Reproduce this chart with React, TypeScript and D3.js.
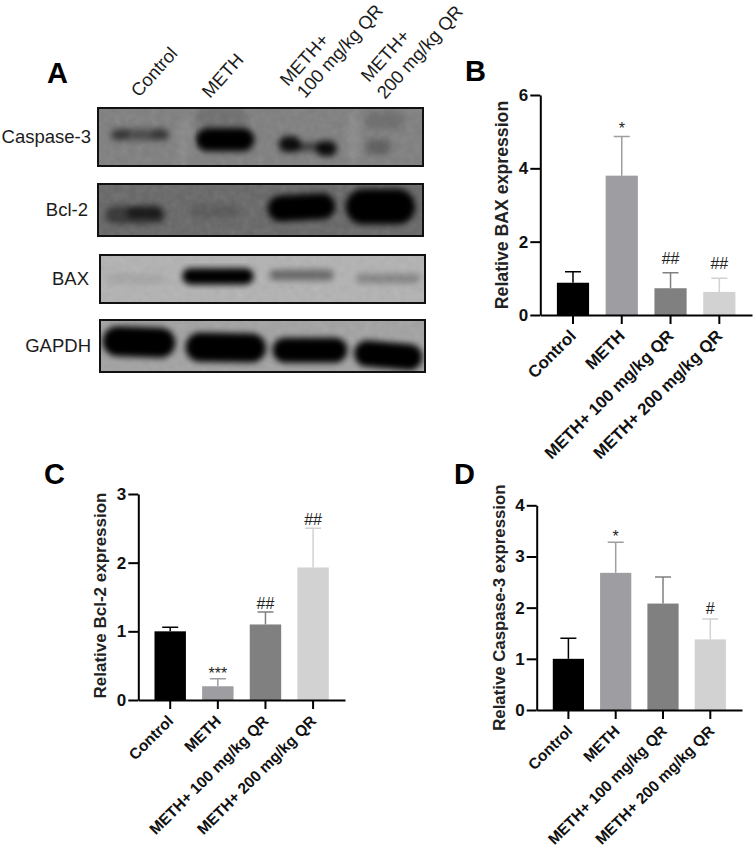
import React, { useEffect, useRef } from 'react';
import * as d3 from 'd3';

const groups = ['Control', 'METH', 'METH+ 100 mg/kg QR', 'METH+ 200 mg/kg QR'];
const barColors = ['#000000', '#9d9da2', '#808080', '#d2d2d2'];

const baxMeans = [0.88, 3.8, 0.73, 0.63];
const baxTops = [1.18, 4.87, 1.15, 1.0];
const baxMarks = ['', '*', '##', '##'];
const baxTicks = [0, 2, 4, 6];

const bclMeans = [1.0, 0.2, 1.1, 1.93];
const bclTops = [1.06, 0.31, 1.28, 2.5];
const bclMarks = ['', '***', '##', '##'];
const bclTicks = [0, 1, 2, 3];

const caspMeans = [1.0, 2.68, 2.08, 1.38];
const caspTops = [1.4, 3.28, 2.6, 1.78];
const caspMarks = ['', '*', '', '#'];
const caspTicks = [0, 1, 2, 3, 4];

// blot bands as fractions of the blot: [center x, center y, half width, half height, darkness, tilt]
// negative darkness = a lighter streak in the membrane
const caspaseBands = [
  [0.129, 0.46, 0.09, 0.1, 0.42, 0],
  [0.07, 0.45, 0.025, 0.09, 0.3, 0],
  [0.19, 0.45, 0.025, 0.09, 0.3, 0],
  [0.391, 0.545, 0.09, 0.2, 1, 0],
  [0.59, 0.625, 0.034, 0.14, 0.9, 0],
  [0.65, 0.67, 0.05, 0.08, 0.5, 0],
  [0.703, 0.7, 0.032, 0.13, 0.9, 0],
  [0.862, 0.67, 0.04, 0.13, 0.25, 0],
  [0.88, 0.22, 0.06, 0.15, 0.14, 0],
  [0.38, 0.15, 0.08, 0.17, 0.12, 0],
  [0.265, 0.6, 0.02, 0.5, -0.07, 0],
  [0.785, 0.5, 0.015, 0.5, -0.1, 0],
];
const bcl2Bands = [
  [0.114, 0.6, 0.092, 0.17, 0.45, 0],
  [0.144, 0.55, 0.056, 0.12, 0.55, 0],
  [0.36, 0.53, 0.08, 0.12, 0.14, 0],
  [0.626, 0.45, 0.104, 0.25, 1, -3],
  [0.869, 0.436, 0.107, 0.34, 1, 0],
];
const baxBands = [
  [0.11, 0.5, 0.09, 0.1, 0.08, 0],
  [0.363, 0.444, 0.11, 0.17, 1, 0],
  [0.62, 0.417, 0.099, 0.11, 0.42, 0],
  [0.887, 0.49, 0.099, 0.1, 0.26, 0],
];
const gapdhBands = [
  [0.12, 0.424, 0.112, 0.29, 1, 2],
  [0.387, 0.53, 0.124, 0.28, 1, 1],
  [0.646, 0.58, 0.115, 0.24, 1, 0],
  [0.887, 0.68, 0.105, 0.25, 1, 5],
];

function drawBlot(svg, name, bands, box, background, labelX) {
  const [x0, y0, x1, y1] = box;
  const sx = d3.scaleLinear().domain([0, 1]).range([x0, x1]);
  const sy = d3.scaleLinear().domain([0, 1]).range([y0, y1]);
  const id = 'clip-' + name;

  svg.select('defs').append('clipPath').attr('id', id)
    .append('rect').attr('x', x0).attr('y', y0).attr('width', x1 - x0).attr('height', y1 - y0);

  const g = svg.append('g').attr('clip-path', `url(#${id})`);
  g.append('rect').attr('x', x0).attr('y', y0).attr('width', x1 - x0).attr('height', y1 - y0)
    .attr('fill', background);
  g.append('rect').attr('x', x0).attr('y', y0).attr('width', x1 - x0).attr('height', y1 - y0)
    .attr('filter', 'url(#grain)').attr('opacity', 0.15);

  g.append('g').attr('filter', 'url(#soft)')
    .selectAll('rect').data(bands).enter().append('rect')
    .attr('x', d => sx(d[0] - d[2]))
    .attr('y', d => sy(d[1] - d[3]))
    .attr('width', d => sx(d[2] * 2) - x0)
    .attr('height', d => sy(d[3] * 2) - y0)
    .attr('rx', d => sy(d[3]) - y0)
    .attr('ry', d => sy(d[3]) - y0)
    .attr('transform', d => `rotate(${d[5]},${sx(d[0])},${sy(d[1])})`)
    .attr('fill', d => (d[4] < 0 ? '#fff' : '#000'))
    .attr('opacity', d => Math.abs(d[4]));

  svg.append('rect').attr('x', x0).attr('y', y0).attr('width', x1 - x0).attr('height', y1 - y0)
    .attr('fill', 'none').attr('stroke', '#111').attr('stroke-width', 2);

  svg.append('text').attr('x', labelX).attr('y', (y0 + y1) / 2 + 6).attr('text-anchor', 'end')
    .attr('font-size', 18.5).attr('fill', '#1c1c1c').text(name);
}

function drawBars(svg, cfg) {
  const { left, right, top, bottom, means, tops, marks, ticks, title, titleX, titleSize, labelSize, labelShift, hashGap, starGap } = cfg;
  const x = d3.scaleBand().domain(groups).range([left, right]).padding(0.34);
  const y = d3.scaleLinear().domain([ticks[0], ticks[ticks.length - 1]]).range([bottom, top]);
  const g = svg.append('g');

  // error bars go under the bars
  g.selectAll('path.err').data(groups).enter().append('path')
    .attr('class', 'err')
    .attr('d', (d, i) => {
      const cx = x(d) + x.bandwidth() / 2;
      return `M${cx},${y(means[i])}V${y(tops[i])}M${cx - 8},${y(tops[i])}H${cx + 8}`;
    })
    .attr('fill', 'none')
    .attr('stroke', (d, i) => barColors[i])
    .attr('stroke-width', 1.5);

  g.selectAll('rect.bar').data(groups).enter().append('rect')
    .attr('class', 'bar')
    .attr('x', d => x(d))
    .attr('y', (d, i) => y(means[i]))
    .attr('width', x.bandwidth())
    .attr('height', (d, i) => bottom - y(means[i]))
    .attr('fill', (d, i) => barColors[i]);

  g.selectAll('text.mark').data(groups).enter().append('text')
    .attr('class', 'mark')
    .attr('x', d => x(d) + x.bandwidth() / 2)
    .attr('y', (d, i) => y(tops[i]) - (marks[i].includes('*') ? starGap : hashGap))
    .attr('text-anchor', 'middle')
    .attr('font-size', 16)
    .attr('fill', '#222')
    .text((d, i) => marks[i]);

  const yAxis = g.append('g').attr('transform', `translate(${left},0)`)
    .call(d3.axisLeft(y).tickValues(ticks).tickFormat(d3.format('d')).tickSize(10).tickSizeOuter(0));
  const xAxis = g.append('g').attr('transform', `translate(0,${bottom})`)
    .call(d3.axisBottom(x).tickSize(9).tickSizeOuter(0));

  [yAxis, xAxis].forEach(a => {
    a.attr('font-family', null).attr('font-size', null);
    a.selectAll('path,line').attr('stroke', '#000').attr('stroke-width', 2);
    a.selectAll('text').attr('fill', '#111').attr('font-weight', 'bold');
  });
  yAxis.selectAll('text').attr('font-size', 17).attr('x', -12);
  xAxis.selectAll('text')
    .attr('font-size', labelSize)
    .attr('text-anchor', 'end')
    .attr('dy', 0)
    .attr('y', 0)
    .attr('transform', `translate(${labelShift},22) rotate(-45)`);

  g.append('text')
    .attr('transform', `translate(${titleX},${(top + bottom) / 2 + cfg.titleShift}) rotate(-90)`)
    .attr('text-anchor', 'middle')
    .attr('font-size', titleSize)
    .attr('font-weight', 'bold')
    .attr('fill', '#222')
    .text(title);
}

export default function App() {
  const ref = useRef(null);

  useEffect(() => {
    const svg = d3.select(ref.current);
    svg.selectAll('*').remove();
    svg.attr('font-family', '"Liberation Sans", Arial, sans-serif');

    const defs = svg.append('defs');
    defs.append('filter').attr('id', 'soft').attr('x', '-30%').attr('y', '-30%').attr('width', '160%').attr('height', '160%')
      .append('feGaussianBlur').attr('stdDeviation', 3);
    const grain = defs.append('filter').attr('id', 'grain');
    grain.append('feTurbulence').attr('type', 'fractalNoise').attr('baseFrequency', 0.14).attr('numOctaves', 2).attr('seed', 4);
    grain.append('feColorMatrix').attr('type', 'saturate').attr('values', 0);

    svg.append('rect').attr('width', 754).attr('height', 847).attr('fill', '#fff');

    drawBlot(svg, 'Caspase-3', caspaseBands, [98, 108, 423, 166], '#7e7e7e', 91);
    drawBlot(svg, 'Bcl-2', bcl2Bands, [98, 184, 423, 236], '#666666', 88);
    drawBlot(svg, 'BAX', baxBands, [100, 255, 425, 303], '#b2b2b2', 89);
    drawBlot(svg, 'GAPDH', gapdhBands, [100, 320, 425, 372], '#a2a2a2', 91);

    const laneLabels = [
      ['Control', 139, 98],
      ['METH', 210, 99],
      ['METH+', 288, 87],
      ['100 mg/kg QR', 305, 99],
      ['METH+', 369, 83],
      ['200 mg/kg QR', 385, 100],
    ];
    svg.append('g').selectAll('text').data(laneLabels).enter().append('text')
      .attr('transform', d => `translate(${d[1]},${d[2]}) rotate(-48)`)
      .attr('font-size', 18.3)
      .attr('fill', '#1c1c1c')
      .text(d => d[0]);

    const panels = [['A', 47, 83], ['B', 465, 81], ['C', 44, 484], ['D', 454, 484]];
    svg.append('g').selectAll('text').data(panels).enter().append('text')
      .attr('x', d => d[1]).attr('y', d => d[2])
      .attr('font-size', 29)
      .attr('font-weight', 'bold')
      .attr('fill', '#000')
      .text(d => d[0]);

    drawBars(svg, {
      left: 540.3, right: 752, top: 95, bottom: 315,
      means: baxMeans, tops: baxTops, marks: baxMarks, ticks: baxTicks,
      title: 'Relative BAX expression', titleX: 508, titleShift: 0, titleSize: 17.7,
      labelSize: 16.8, labelShift: 4, hashGap: 9, starGap: 2,
    });
    drawBars(svg, {
      left: 138.3, right: 345, top: 494, bottom: 700,
      means: bclMeans, tops: bclTops, marks: bclMarks, ticks: bclTicks,
      title: 'Relative Bcl-2 expression', titleX: 106, titleShift: -1.5, titleSize: 17,
      labelSize: 15.5, labelShift: 4, hashGap: 3, starGap: 0,
    });
    drawBars(svg, {
      left: 536.7, right: 742, top: 505.3, bottom: 710,
      means: caspMeans, tops: caspTops, marks: caspMarks, ticks: caspTicks,
      title: 'Relative Caspase-3 expression', titleX: 505, titleShift: 0, titleSize: 16.8,
      labelSize: 15.5, labelShift: 5, hashGap: 5, starGap: 0,
    });
  }, []);

  return <svg ref={ref} width={754} height={847} style={{ position: 'absolute', left: 0, top: 0 }} />;
}
